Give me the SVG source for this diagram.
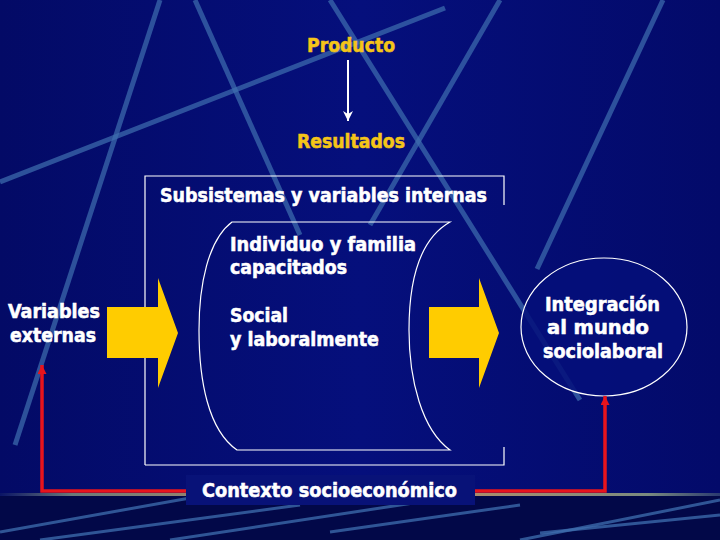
<svg xmlns="http://www.w3.org/2000/svg" width="720" height="540" viewBox="0 0 720 540">
<defs>
<linearGradient id="bg" x1="0" y1="0" x2="1" y2="0">
<stop offset="0" stop-color="#030a66"/>
<stop offset="0.5" stop-color="#050f7c"/>
<stop offset="1" stop-color="#030a6a"/>
</linearGradient>
<linearGradient id="horizon" x1="0" y1="0" x2="1" y2="0">
<stop offset="0" stop-color="#0a1466"/>
<stop offset="0.1" stop-color="#6a7a7a"/>
<stop offset="0.5" stop-color="#c89060"/>
<stop offset="0.9" stop-color="#7a8a80"/>
<stop offset="1" stop-color="#2a3a70"/>
</linearGradient>
<marker id="wh" viewBox="0 0 10 10" refX="10" refY="5" markerWidth="10" markerHeight="10" markerUnits="userSpaceOnUse" orient="auto">
<path d="M0,0 L10,5 L0,10 L3,5 Z" fill="#ffffff"/>
</marker>
<marker id="rd" viewBox="0 0 10 10" refX="10" refY="5" markerWidth="9" markerHeight="9" markerUnits="userSpaceOnUse" orient="auto">
<path d="M0,0 L10,5 L0,10 Z" fill="#e8141c"/>
</marker>
<style>
.st{stroke:#3f6fb0;stroke-width:5;stroke-linecap:butt;opacity:0.7}
.st2{stroke:#3f6fb0;stroke-width:3;opacity:0.75}
.t{font-family:"DejaVu Sans Condensed","DejaVu Sans",sans-serif;font-weight:bold;font-size:19px;stroke-width:0.5}
.w{fill:#ffffff;stroke:#ffffff}
.y{fill:#f5c518;stroke:#f5c518}
.ln{fill:none;stroke:#ffffff;stroke-width:1.2}
.ya{fill:#ffcc00}
.red{fill:none;stroke:#e8141c;stroke-width:3.5}
</style>
</defs>

<g id="background">
<rect x="0" y="0" width="720" height="540" fill="url(#bg)"/>
<rect x="0" y="494" width="720" height="46" fill="#020848"/>
<line class="st" x1="0" y1="182" x2="445" y2="8"/>
<line class="st" x1="160" y1="0" x2="15" y2="445"/>
<line class="st" x1="195" y1="0" x2="300" y2="235"/>
<line class="st" x1="330" y1="0" x2="580" y2="400"/>
<line class="st" x1="500" y1="0" x2="370" y2="225"/>
<line class="st" x1="663" y1="0" x2="537" y2="269"/>
<line class="st2" x1="0" y1="532" x2="190" y2="498"/>
<line class="st2" x1="40" y1="540" x2="300" y2="505"/>
<line class="st2" x1="170" y1="540" x2="420" y2="502"/>
<line class="st2" x1="330" y1="532" x2="520" y2="505"/>
<line class="st2" x1="520" y1="540" x2="720" y2="500"/>
<line class="st2" x1="540" y1="533" x2="720" y2="515"/>
<rect x="0" y="493" width="720" height="3" fill="url(#horizon)"/>
</g>

<g id="system-box">
<path class="ln" d="M145,465 L145,176 L504,176 L504,205"/>
<path class="ln" d="M504,447 L504,465 L145,465"/>
<text class="t w" x="160" y="202" textLength="327" lengthAdjust="spacingAndGlyphs">Subsistemas y variables internas</text>
</g>

<g id="individuo">
<path class="ln" d="M450,222 L232,222 C208,240 199,285 199,330 C199,380 208,430 237,450 L450,450 C422,430 409,380 409,330 C409,285 418,240 450,222 Z"/>
<text class="t w" x="230" y="251" textLength="186" lengthAdjust="spacingAndGlyphs">Individuo y familia</text>
<text class="t w" x="230" y="274" textLength="117" lengthAdjust="spacingAndGlyphs">capacitados</text>
<text class="t w" x="230" y="322" textLength="58" lengthAdjust="spacingAndGlyphs">Social</text>
<text class="t w" x="230" y="346" textLength="149" lengthAdjust="spacingAndGlyphs">y laboralmente</text>
</g>

<g id="producto">
<text class="t y" x="307" y="52" textLength="88" lengthAdjust="spacingAndGlyphs">Producto</text>
</g>

<g id="resultados">
<text class="t y" x="297" y="148" textLength="108" lengthAdjust="spacingAndGlyphs">Resultados</text>
</g>

<g id="variables-externas">
<text class="t w" x="8" y="318" textLength="92" lengthAdjust="spacingAndGlyphs">Variables</text>
<text class="t w" x="10" y="342" textLength="86" lengthAdjust="spacingAndGlyphs">externas</text>
</g>

<g id="integracion">
<ellipse cx="604" cy="327" rx="83" ry="69" fill="#050f7a" fill-opacity="0.85" stroke="#ffffff" stroke-width="1.2"/>
<text class="t w" x="545" y="311" textLength="115" lengthAdjust="spacingAndGlyphs">Integración</text>
<text class="t w" x="547" y="334" textLength="102" lengthAdjust="spacingAndGlyphs">al mundo</text>
<text class="t w" x="543" y="358" textLength="120" lengthAdjust="spacingAndGlyphs">sociolaboral</text>
</g>

<g id="contexto">
<rect x="186" y="475" width="289" height="30" fill="#081278"/>
<text class="t w" x="202" y="497" textLength="255" lengthAdjust="spacingAndGlyphs">Contexto socioeconómico</text>
</g>

<g id="connectors">
<line x1="348" y1="60" x2="348" y2="121" stroke="#ffffff" stroke-width="2" marker-end="url(#wh)"/>
<polygon class="ya" points="107,307 158,307 158,278 178,333 158,388 158,358 107,358"/>
<polygon class="ya" points="429,307 479,307 479,278 499,333 479,388 479,358 429,358"/>
<polyline class="red" points="186,491 42,491 42,365" marker-end="url(#rd)"/>
<polyline class="red" points="475,491 605,491 605,396" marker-end="url(#rd)"/>
</g>
</svg>
